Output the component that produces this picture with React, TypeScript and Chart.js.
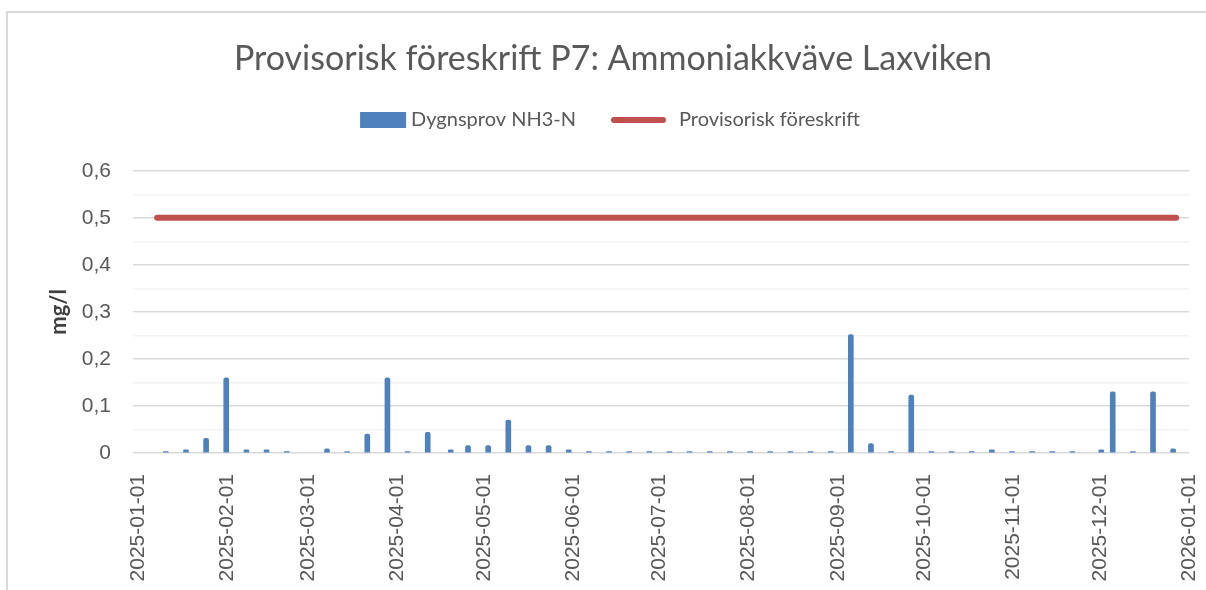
import React, { useEffect, useRef } from 'react';
import { Chart, registerables } from 'chart.js';

Chart.register(...registerables);

const TITLE = 'Provisorisk föreskrift P7: Ammoniakkväve Laxviken';
const Y_TITLE = 'mg/l';
const BAR_NAME = 'Dygnsprov NH3-N';
const LINE_NAME = 'Provisorisk föreskrift';

const SAMPLE_DATES = [
  '2025-01-10', '2025-01-17', '2025-01-24', '2025-01-31', '2025-02-07', '2025-02-14', '2025-02-21',
  '2025-03-07', '2025-03-14', '2025-03-21', '2025-03-28', '2025-04-04', '2025-04-11', '2025-04-19',
  '2025-04-25', '2025-05-02', '2025-05-09', '2025-05-16', '2025-05-23', '2025-05-30', '2025-06-06',
  '2025-06-13', '2025-06-20', '2025-06-27', '2025-07-04', '2025-07-11', '2025-07-18', '2025-07-25',
  '2025-08-01', '2025-08-08', '2025-08-15', '2025-08-22', '2025-08-29', '2025-09-05', '2025-09-12',
  '2025-09-19', '2025-09-26', '2025-10-03', '2025-10-10', '2025-10-17', '2025-10-24', '2025-10-31',
  '2025-11-07', '2025-11-14', '2025-11-21', '2025-12-01', '2025-12-05', '2025-12-12', '2025-12-19',
  '2025-12-26',
];
const SAMPLE_VALUES = [
  0.003, 0.007, 0.031, 0.16, 0.007, 0.007, 0.003,
  0.009, 0.003, 0.04, 0.16, 0.003, 0.044, 0.007,
  0.016, 0.016, 0.07, 0.016, 0.016, 0.007, 0.003,
  0.003, 0.003, 0.003, 0.003, 0.003, 0.003, 0.003,
  0.003, 0.003, 0.003, 0.003, 0.003, 0.252, 0.02,
  0.003, 0.123, 0.003, 0.003, 0.003, 0.007, 0.003,
  0.003, 0.003, 0.003, 0.007, 0.13, 0.003, 0.13,
  0.009,
];
const LIMIT_DATES = ['2025-01-07', '2025-12-27'];
const LIMIT_VALUES = [0.5, 0.5];

const X_TICK_DATES = [
  '2025-01-01', '2025-02-01', '2025-03-01', '2025-04-01', '2025-05-01', '2025-06-01', '2025-07-01',
  '2025-08-01', '2025-09-01', '2025-10-01', '2025-11-01', '2025-12-01', '2026-01-01',
];
const Y_MIN = 0;
const Y_MAX = 0.6;
const Y_STEP = 0.05;

const ORIGIN = Date.UTC(2025, 0, 1);
const dayOf = (s: string, noon = true) => {
  const [y, m, d] = s.split('-').map(Number);
  return (Date.UTC(y, m - 1, d) - ORIGIN) / 86400000 + (noon ? 0.5 : 0);
};

const isMajor = (v: number) => Math.abs(v * 10 - Math.round(v * 10)) < 1e-6;
const fmt = (v: number) => {
  const r = Math.round(v * 10) / 10;
  return r === 0 ? '0' : String(r).replace('.', ',');
};

const BLUE = '#4f81bd';
const RED = '#c0504d';
const TEXT = '#595959';

const legendPlugin = {
  id: 'customLegend',
  afterDraw(chart: any) {
    const ctx = chart.ctx as CanvasRenderingContext2D;
    ctx.save();
    ctx.font = '20px Lato';
    ctx.textBaseline = 'middle';
    ctx.fillStyle = TEXT;
    const boxW = 46, boxH = 16, gap1 = 5, itemGap = 35, lineW = 55, gap2 = 13;
    const t1 = ctx.measureText(BAR_NAME).width;
    const t2 = ctx.measureText(LINE_NAME).width;
    const total = boxW + gap1 + t1 + itemGap + lineW + gap2 + t2;
    const tb = chart.titleBlock;
    const center = (tb.left + tb.right) / 2 - 3;
    const y = 120;
    let x = center - total / 2;
    ctx.fillStyle = BLUE;
    ctx.fillRect(x, y - boxH / 2, boxW, boxH);
    x += boxW + gap1;
    ctx.fillStyle = TEXT;
    ctx.textAlign = 'left';
    ctx.fillText(BAR_NAME, x, y);
    x += t1 + itemGap;
    ctx.strokeStyle = RED;
    ctx.lineWidth = 6;
    ctx.lineCap = 'round';
    ctx.beginPath();
    ctx.moveTo(x + 3, y);
    ctx.lineTo(x + lineW - 3, y);
    ctx.stroke();
    x += lineW + gap2;
    ctx.fillText(LINE_NAME, x, y);
    ctx.restore();
  },
};

export default function App() {
  const ref = useRef<HTMLCanvasElement | null>(null);

  useEffect(() => {
    if (!ref.current) return;
    const chart = new Chart(ref.current, {
      type: 'bar',
      data: {
        datasets: [
          {
            type: 'bar',
            label: BAR_NAME,
            data: SAMPLE_DATES.map((d, i) => ({ x: dayOf(d), y: SAMPLE_VALUES[i] })),
            backgroundColor: BLUE,
            barThickness: 5,
            borderRadius: 2,
            borderSkipped: 'bottom',
            order: 2,
          } as any,
          {
            type: 'line',
            label: LINE_NAME,
            data: LIMIT_DATES.map((d, i) => ({ x: dayOf(d), y: LIMIT_VALUES[i] })),
            borderColor: RED,
            backgroundColor: RED,
            borderWidth: 6,
            borderCapStyle: 'round',
            pointRadius: 0,
            pointHoverRadius: 0,
            fill: false,
            order: 1,
          } as any,
        ],
      },
      options: {
        animation: false,
        responsive: false,
        maintainAspectRatio: false,
        events: [],
        layout: { padding: { left: 37, right: 17, top: 0, bottom: 0 } },
        plugins: {
          legend: { display: false },
          tooltip: { enabled: false },
          title: {
            display: true,
            text: TITLE,
            color: TEXT,
            font: { family: 'Lato', size: 34, weight: 'normal', lineHeight: 1.2 },
            padding: { top: 39, bottom: 91 },
          },
        },
        scales: {
          x: {
            type: 'linear',
            min: -1.9,
            max: 365,
            offset: false,
            bounds: 'data',
            grid: { display: false, offset: false },
            border: { display: false },
            afterBuildTicks: (scale: any) => {
              scale.ticks = X_TICK_DATES.map((d) => ({ value: dayOf(d, false) }));
            },
            afterFit: (scale: any) => {
              scale.height = 137;
              scale.paddingLeft = 0;
              scale.paddingRight = 0;
            },
            ticks: {
              autoSkip: false,
              minRotation: 90,
              maxRotation: 90,
              padding: 13,
              color: TEXT,
              font: { family: 'Liberation Sans', size: 21 },
              callback: (_v: any, i: number) => X_TICK_DATES[i],
            },
          },
          y: {
            min: Y_MIN,
            max: Y_MAX,
            afterFit: (scale: any) => {
              scale.width = 96;
            },
            border: { display: false },
            grid: {
              drawTicks: false,
              lineWidth: 1.5,
              color: (c: any) => (c.tick && isMajor(c.tick.value) ? '#d9d9d9' : '#f2f2f2'),
            },
            ticks: {
              stepSize: Y_STEP,
              autoSkip: false,
              padding: 22,
              color: TEXT,
              font: { family: 'Liberation Sans', size: 21 },
              callback: (v: any) => (isMajor(Number(v)) ? fmt(Number(v)) : ''),
            },
            title: {
              display: true,
              text: Y_TITLE,
              color: '#404040',
              font: { family: 'Lato', size: 22, weight: 'bold' },
              padding: { top: 9, bottom: 0 },
            },
          },
        },
      } as any,
      plugins: [legendPlugin],
    });
    return () => chart.destroy();
  }, []);

  return (
    <div style={{ position: 'fixed', left: 0, top: 0, width: 1206, height: 590, overflow: 'hidden', background: '#fff' }}>
      <div
        style={{
          position: 'absolute',
          left: 6,
          top: 11,
          width: 1400,
          height: 800,
          borderLeft: '2px solid #d9d9d9',
          borderTop: '2px solid #d9d9d9',
        }}
      />
      <canvas ref={ref} width={1206} height={590} style={{ position: 'absolute', left: 0, top: 0, width: 1206, height: 590 }} />
    </div>
  );
}
